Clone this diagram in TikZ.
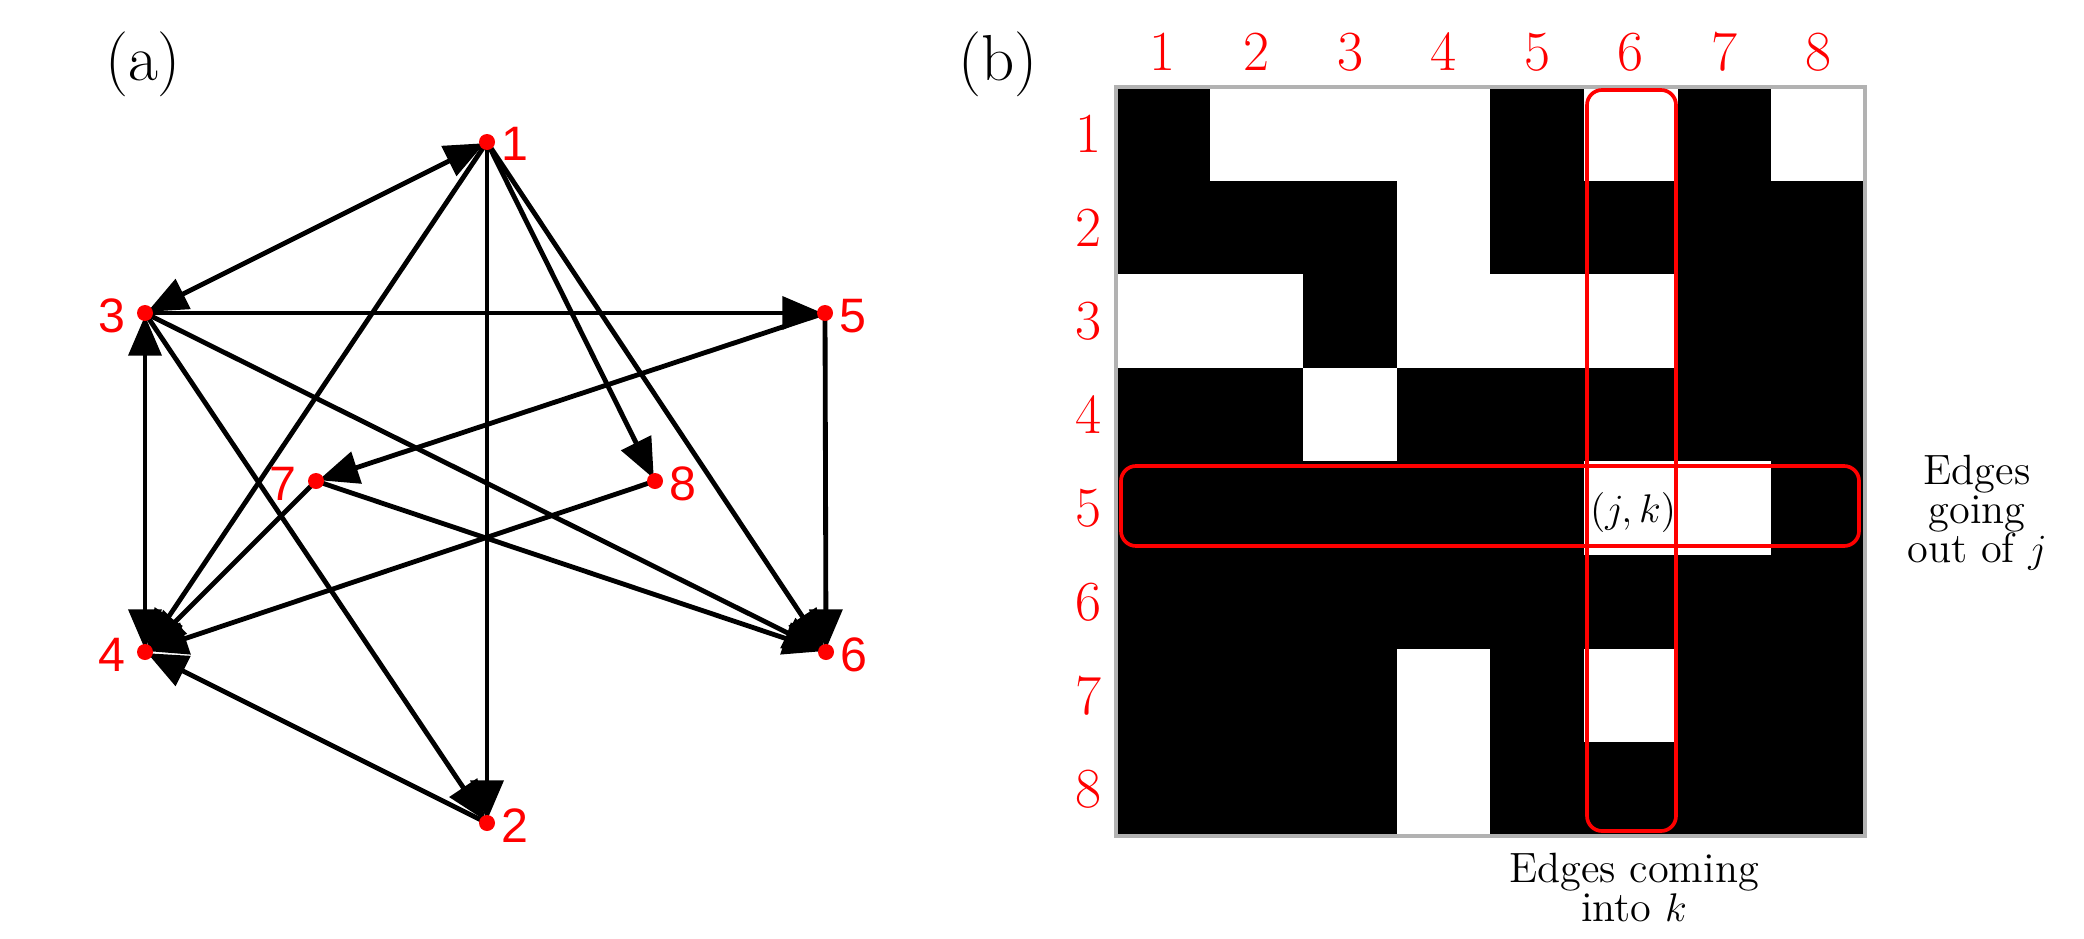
\documentclass[tikz,border=0pt]{standalone}
\usepackage{fontspec}
\newfontfamily\graphfont{Liberation Sans}
\usetikzlibrary{arrows.meta}
\definecolor{pured}{RGB}{255,0,0}
\begin{document}
\begin{tikzpicture}[x=0.3pt,y=-0.3pt,
  edgeline/.style={line width=1.45pt,black},
  tipone/.style={edgeline,shorten >=0.8pt,-{Triangle[length=12pt,width=9.8pt]}},
  tipboth/.style={edgeline,shorten >=0.8pt,shorten <=0.8pt,{Triangle[length=12pt,width=9.8pt]}-{Triangle[length=12pt,width=9.8pt]}},
  dot/.style={circle,fill=pured,draw=none,inner sep=0pt,minimum size=4.8pt},
  glabR/.style={anchor=west,inner sep=0pt,text=pured,font=\graphfont\fontsize{14.5}{16}\selectfont},
  glabL/.style={anchor=east,inner sep=0pt,text=pured,font=\graphfont\fontsize{14.5}{16}\selectfont},
  mlabel/.style={inner sep=0pt,text=pured,font=\fontsize{17}{19}\selectfont},
  panel/.style={inner sep=0pt,font=\fontsize{19.5}{22}\selectfont},
  note/.style={inner sep=0pt,align=center,font=\fontsize{12.7}{11.7}\selectfont},
  redbox/.style={draw=pured,line width=1.1pt,rounded corners=4.5pt},
  grayborder/.style={draw=black!30,line width=1.2pt}]
\useasboundingbox (0,0) rectangle (2084,939);

% panel labels
\node[panel] (pa) at (143,64) {(a)};
\node[panel] (pb) at (998,64) {(b)};

% graph vertex positions
\coordinate (p1) at (487,142);
\coordinate (p2) at (487,823);
\coordinate (p3) at (145,313);
\coordinate (p4) at (145,652);
\coordinate (p5) at (825,313);
\coordinate (p6) at (826,652);
\coordinate (p7) at (316,481);
\coordinate (p8) at (655,481);

% edges
\draw[tipboth] (p1) -- (p3);
\draw[tipone] (p1) -- (p2);
\draw[tipone] (p1) -- (p4);
\draw[tipone] (p1) -- (p6);
\draw[tipone] (p1) -- (p8);
\draw[tipone] (p2) -- (p4);
\draw[tipone] (p3) -- (p2);
\draw[tipboth] (p3) -- (p4);
\draw[tipone] (p3) -- (p5);
\draw[tipone] (p3) -- (p6);
\draw[tipone] (p5) -- (p6);
\draw[tipone] (p5) -- (p7);
\draw[tipone] (p7) -- (p4);
\draw[tipone] (p7) -- (p6);
\draw[tipone] (p8) -- (p4);

% vertices
\foreach \i in {1,...,8} { \node[dot] (n\i) at (p\i) {}; }
\node[glabR] (l1) at ([xshift=4.2pt,yshift=-0.6pt]p1) {1};
\node[glabR] (l2) at ([xshift=4.2pt,yshift=-0.9pt]p2) {2};
\node[glabL] (l3) at ([xshift=-5.7pt,yshift=-0.9pt]p3) {3};
\node[glabL] (l4) at ([xshift=-5.7pt,yshift=-0.9pt]p4) {4};
\node[glabR] (l5) at ([xshift=4.2pt,yshift=-0.9pt]p5) {5};
\node[glabR] (l6) at ([xshift=4.2pt,yshift=-0.9pt]p6) {6};
\node[glabL] (l7) at ([xshift=-5.7pt,yshift=-0.9pt]p7) {7};
\node[glabR] (l8) at ([xshift=4.2pt,yshift=-0.9pt]p8) {8};

% adjacency matrix
\fill[black] (1116,87) rectangle (1865,836);
\foreach \j/\k in {1/2,1/3,1/4,1/6,1/8,2/4,3/1,3/2,3/4,3/5,3/6,4/3,5/6,5/7,7/4,7/6,8/4}
  { \fill[white] ({1116+(\k-1)*93.6},{87+(\j-1)*93.6}) rectangle ++(93.6,93.6); }
\draw[grayborder] (1116,87) rectangle (1865,836);

\foreach \i in {1,...,8} {
  \node[mlabel] (c\i) at ({1116+(\i-0.5)*93.6},52) {\i};
  \node[mlabel] (r\i) at (1088,{87+(\i-0.5)*93.6}) {\i};
}

% highlight boxes
\draw[redbox] (1121,466) rectangle (1859,546);
\draw[redbox] (1587,90) rectangle (1676,831);

% annotations
\node[note] (jk) at (1633,512) {$(j,k)$};
\node[note] (out) at (1977,513) {Edges\\going\\out of $j$};
\node[note] (in) at (1634,888) {Edges coming\\into $k$};
\end{tikzpicture}
\end{document}
